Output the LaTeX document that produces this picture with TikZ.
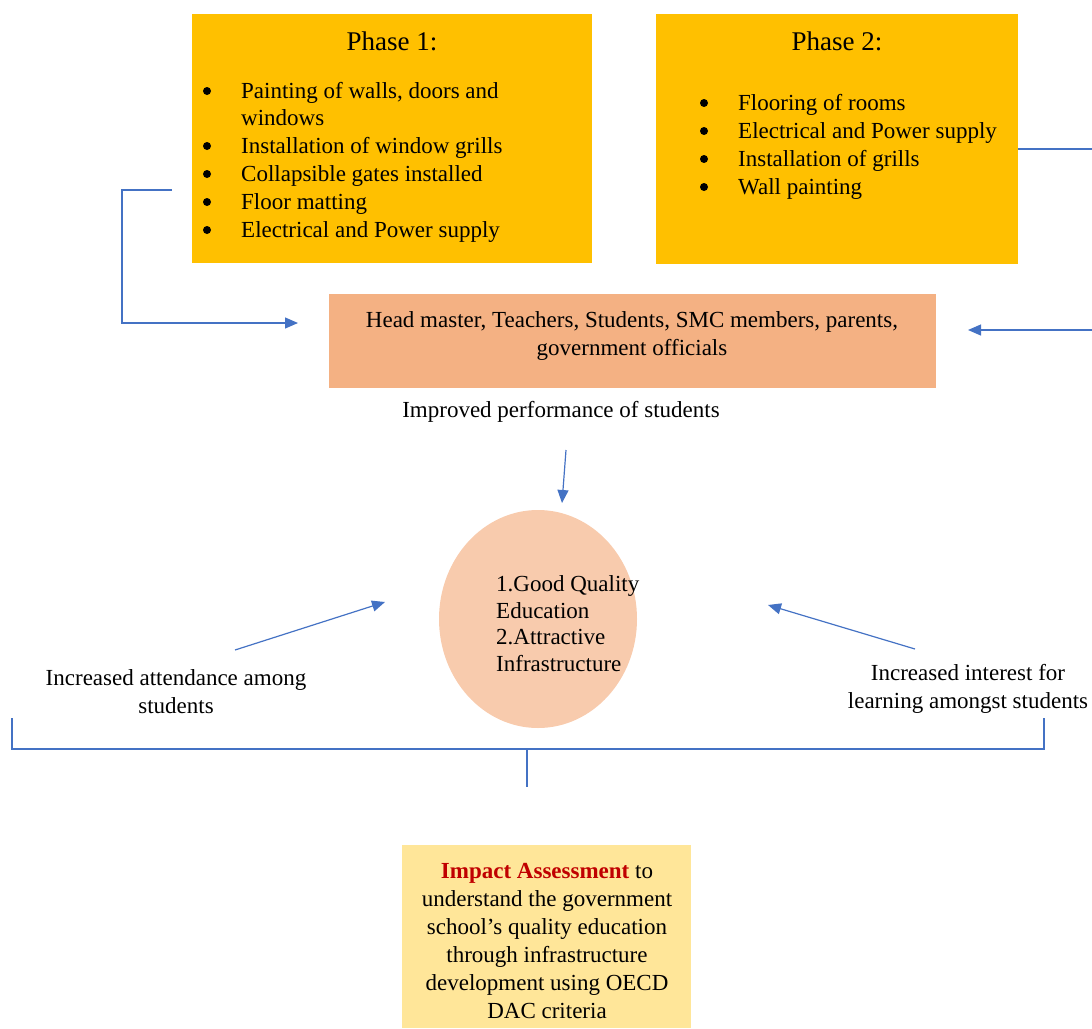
\documentclass[tikz,border=0pt]{standalone}
\usepackage{fontspec}
\setmainfont{Liberation Serif}
\usetikzlibrary{arrows.meta,shapes.geometric}
\definecolor{phasegold}{HTML}{FFC000}
\definecolor{actorpeach}{HTML}{F4B183}
\definecolor{goalpeach}{HTML}{F8CBAD}
\definecolor{impactyellow}{HTML}{FFE699}
\definecolor{linkblue}{HTML}{4472C4}
\definecolor{impactred}{HTML}{C00000}
\begin{document}
\begin{tikzpicture}[x=1pt,y=-1pt,
	every node/.style={font=\fontsize{23}{28}\selectfont, inner sep=0pt},
	title/.style={font=\fontsize{27}{32}\selectfont},
	item/.style={anchor=base west},
	dot/.style={circle, fill=black, minimum size=8pt},
	plain/.style={draw=linkblue, line width=1.2pt},
	link/.style={plain, -{Triangle[length=13pt,width=11pt]}}]
			\useasboundingbox (0,0) rectangle (1092,1028);
			
			%phase boxes
			\node (phaseone) at (392,138.5) [fill=phasegold, minimum width=400pt, minimum height=249pt]{};
			\node (phasetwo) at (837,139) [fill=phasegold, minimum width=362pt, minimum height=250pt]{};
			\node (titleone) at (392,41) [title]{Phase 1:};
			\node (titletwo) at (837,41) [title]{Phase 2:};
			
			\foreach \y/\txt in {98/{Painting of walls, doors and}, 125/windows, 153/Installation of window grills, 181/Collapsible gates installed, 209/Floor matting, 237/Electrical and Power supply}{
				\node (pone-\y) at (241,\y) [item]{\txt};
			}
			\foreach \y in {98, 153, 181, 209, 237}{
				\node (bone-\y) at (207,\y-7) [dot]{};
			}
			\foreach \y/\txt in {110/Flooring of rooms, 138/Electrical and Power supply, 166/Installation of grills, 194/Wall painting}{
				\node (ptwo-\y) at (738,\y) [item]{\txt};
				\node (btwo-\y) at (704,\y-7) [dot]{};
			}
			
			%people involved
			\node (actors) at (632.5,341) [fill=actorpeach, minimum width=607pt, minimum height=94pt]{};
			\node (actorstext) at (632,335.5) [align=center]{Head master, Teachers, Students, SMC members, parents,\\government officials};
			\node (improved) at (561,411.5){Improved performance of students};
			
			%outcome
			\node (quality) at (538,619) [ellipse, fill=goalpeach, minimum width=198pt, minimum height=218pt]{};
			\node (qualitytext) at (496,623.5) [anchor=west, align=left, font=\fontsize{23}{26.5}\selectfont]{1.Good Quality\\Education\\2.Attractive\\Infrastructure};
			\node (attend) at (176,692) [align=center]{Increased attendance among\\students};
			\node (interest) at (968,688.5) [align=center]{Increased interest for\\learning amongst students};
			
			%impact
			\node (impact) at (546.5,936.5) [fill=impactyellow, minimum width=289pt, minimum height=183pt]{};
			\node (impacttext) at (547,941.5) [align=center]{\textcolor{impactred}{\textbf{Impact Assessment}} to\\understand the government\\school's quality education\\through infrastructure\\development using OECD\\DAC criteria};
			
			%connectors
			\coordinate (oneout) at (172,190);
			\coordinate (actorsleft) at (298,323);
			\coordinate (twoout) at (1092,149);
			\coordinate (rightin) at (1092,330);
			\coordinate (actorsright) at (968,330);
			\coordinate (downfrom) at (566,450);
			\coordinate (downto) at (562,503);
			\coordinate (leftfrom) at (235,650);
			\coordinate (leftto) at (385,602);
			\coordinate (rightfrom) at (915,649);
			\coordinate (rightto) at (768,605);
			\coordinate (bleft) at (12,718);
			\coordinate (bright) at (1044,718);
			\coordinate (bmid) at (527,749);
			\coordinate (bdown) at (527,787);
			
			\draw[link] (oneout) -- ++(-50,0) |- (actorsleft);
			\draw[plain] (phasetwo.east |- twoout) -- (twoout);
			\draw[link] (rightin) -- (actorsright);
			\draw[link] (downfrom) -- (downto);
			\draw[link] (leftfrom) -- (leftto);
			\draw[link] (rightfrom) -- (rightto);
			\draw[plain] (bleft) |- (bmid) -| (bright);
			\draw[plain] (bmid) -- (bdown);
		\end{tikzpicture}
\end{document}
